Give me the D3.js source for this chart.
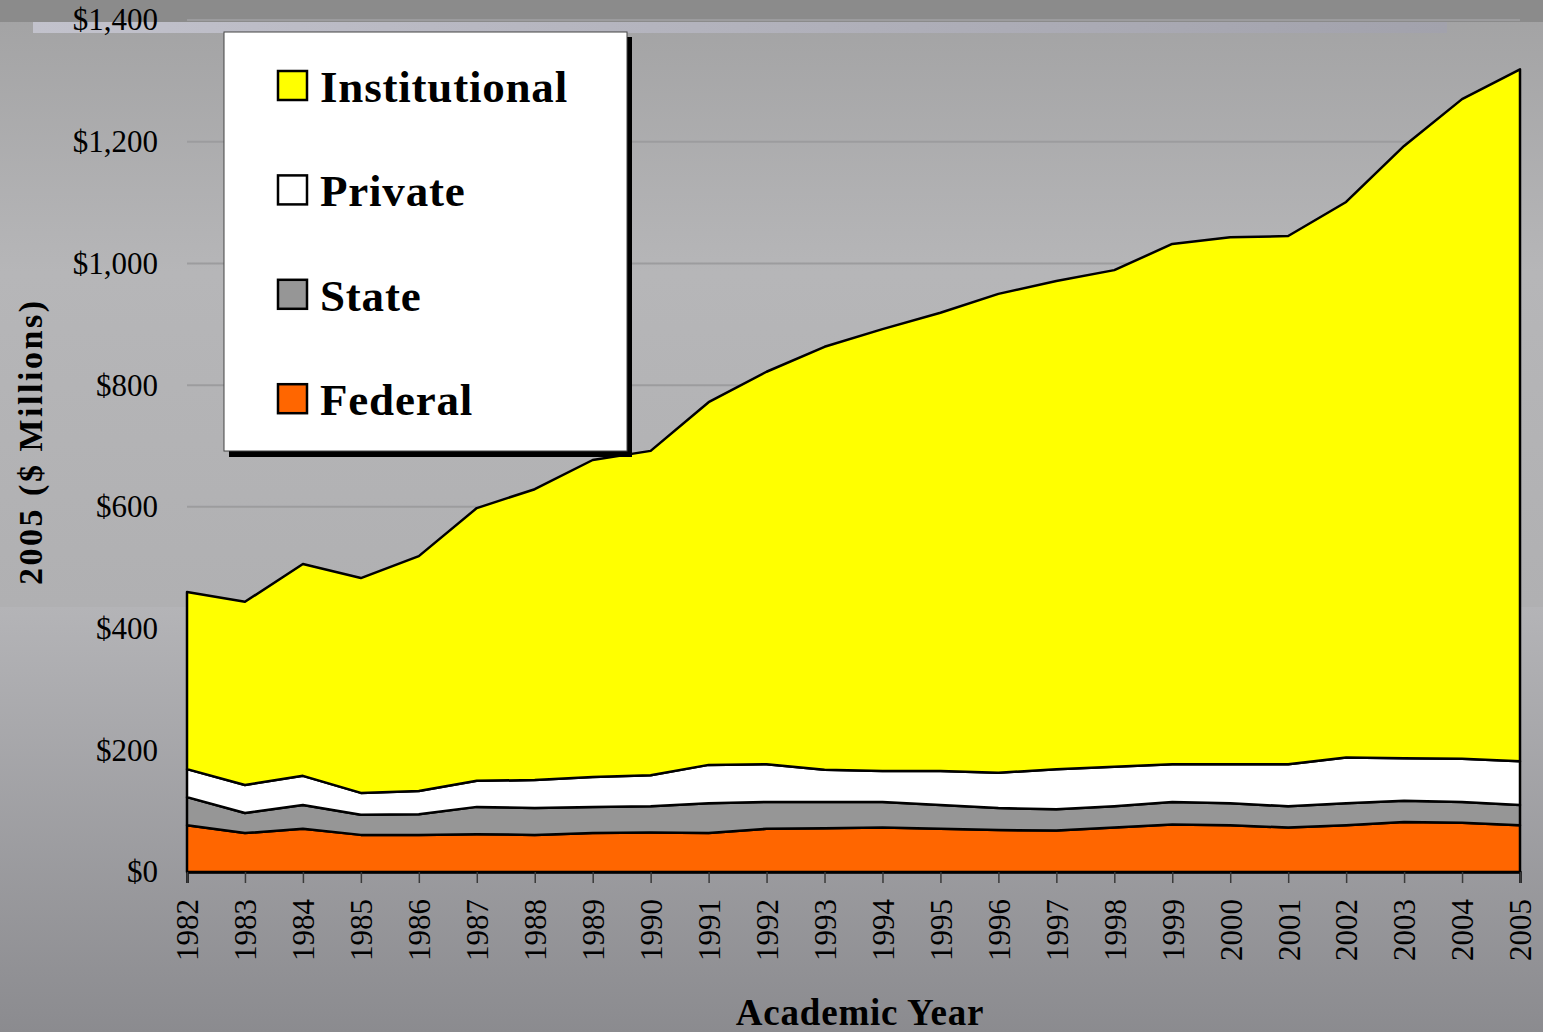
<!DOCTYPE html>
<html>
<head>
<meta charset="utf-8">
<script src="https://cdn.jsdelivr.net/npm/d3@7"></script>
<style>
html,body{margin:0;padding:0;background:#9a9a9c;}
svg{display:block;}
</style>
</head>
<body>
<svg id="chart" width="1543" height="1032"></svg>
<script>
// ---- data (2005 $ Millions) ----
const years = [1982,1983,1984,1985,1986,1987,1988,1989,1990,1991,1992,1993,1994,1995,1996,1997,1998,1999,2000,2001,2002,2003,2004,2005];
const federal = [77,64,71,61,61,62,61,64,65,64,71,72,73,71,69,68,73,78,77,73,77,82,81,77];
const state = [46,33,39,33,34,45,44,43,43,49,44,43,42,39,36,35,35,37,36,35,36,35,34,33];
const privateAid = [46,46,48,36,38,43,46,49,51,63,62,53,51,56,58,66,65,62,64,69,75,70,71,72];
const institutional = [291,301,348,353,386,448,478,521,533,596,645,695,726,753,787,802,816,855,866,868,913,1006,1084,1137];
const seriesKeys = ["Federal","State","Private","Institutional"];
const seriesColors = {Federal:"#ff6600", State:"#969696", Private:"#ffffff", Institutional:"#ffff00"};
const legendOrder = ["Institutional","Private","State","Federal"];
const yTicks = [0,200,400,600,800,1000,1200,1400];

(function(){
const svg = d3.select("#chart");
const W = 1543, H = 1032;
const pLeft = 187, pRight = 1520, pTop = 20, pBottom = 872;

// ---- background ----
const defs = svg.append("defs");
const g1 = defs.append("linearGradient").attr("id","bgTop").attr("x1",0).attr("y1",0).attr("x2",0).attr("y2",1);
g1.append("stop").attr("offset","0%").attr("stop-color","#a2a2a3");
g1.append("stop").attr("offset","45%").attr("stop-color","#b6b6b8");
g1.append("stop").attr("offset","100%").attr("stop-color","#b0b0b2");
const g2 = defs.append("linearGradient").attr("id","bgBot").attr("x1",0).attr("y1",0).attr("x2",0).attr("y2",1);
g2.append("stop").attr("offset","0%").attr("stop-color","#b4b4b7");
g2.append("stop").attr("offset","100%").attr("stop-color","#8b8b8f");
const g3 = defs.append("linearGradient").attr("id","stripe").attr("x1",0).attr("y1",0).attr("x2",1).attr("y2",0);
g3.append("stop").attr("offset","0%").attr("stop-color","#c2c2cc");
g3.append("stop").attr("offset","100%").attr("stop-color","#a2a2ac");

svg.append("rect").attr("x",0).attr("y",0).attr("width",W).attr("height",607).attr("fill","url(#bgTop)");
svg.append("rect").attr("x",0).attr("y",607).attr("width",W).attr("height",H-607).attr("fill","url(#bgBot)");
svg.append("rect").attr("x",0).attr("y",0).attr("width",W).attr("height",22).attr("fill","#8b8b8b");
svg.append("rect").attr("x",33).attr("y",22).attr("width",1414).attr("height",11).attr("fill","url(#stripe)");

// ---- scales ----
const x = d3.scalePoint().domain(years).range([pLeft, pRight]);
const y = d3.scaleLinear().domain([0,1400]).range([pBottom, pTop]);

// gridlines
svg.append("g").selectAll("line").data(yTicks.filter(d=>d>0)).join("line")
  .attr("x1",pLeft).attr("x2",pRight)
  .attr("y1",d=>y(d)).attr("y2",d=>y(d))
  .attr("stroke","#9c9c9e").attr("stroke-width",2);

// ---- stacked areas ----
const table = years.map((yr,i)=>({year:yr, Federal:federal[i], State:state[i], Private:privateAid[i], Institutional:institutional[i]}));
const stack = d3.stack().keys(seriesKeys)(table);
const area = d3.area()
  .x(d=>x(d.data.year))
  .y0(d=>y(d[0]))
  .y1(d=>y(d[1]));
svg.append("g").selectAll("path").data(stack).join("path")
  .attr("d", area)
  .attr("fill", d=>seriesColors[d.key])
  .attr("stroke","#000")
  .attr("stroke-width",2.5)
  .attr("stroke-linejoin","round");

// ---- axes ----
const yAxis = svg.append("g").attr("transform",`translate(${pLeft},0)`)
  .call(d3.axisLeft(y).tickValues(yTicks).tickSize(0).tickPadding(29)
    .tickFormat(d=>"$"+d3.format(",")(d)));
yAxis.select(".domain").remove();
yAxis.selectAll("text").attr("font-family","'Liberation Serif', serif").attr("font-size",31).attr("fill","#000");

const xAxis = svg.append("g").attr("transform",`translate(0,${pBottom})`)
  .call(d3.axisBottom(x).tickSize(11).tickPadding(0));
xAxis.select(".domain").attr("stroke","#000").attr("stroke-width",2.5);
xAxis.selectAll(".tick line").attr("stroke","#3a3a3a").attr("stroke-width",1.5);
xAxis.selectAll("text")
  .attr("font-family","'Liberation Serif', serif").attr("font-size",31).attr("fill","#000")
  .attr("text-anchor","end")
  .attr("y",0)
  .attr("dy","0.35em")
  .attr("transform","translate(0,27) rotate(-90)");

// axis titles
svg.append("text").attr("x",860).attr("y",1025).attr("text-anchor","middle")
  .attr("font-family","'Liberation Serif', serif").attr("font-weight","bold").attr("font-size",37)
  .attr("letter-spacing","0.8").text("Academic Year");
svg.append("text").attr("transform","translate(42,443) rotate(-90)").attr("text-anchor","middle")
  .attr("font-family","'Liberation Serif', serif").attr("font-weight","bold").attr("font-size",34)
  .attr("textLength",284).attr("lengthAdjust","spacing")
  .text("2005 ($ Millions)");

// ---- legend ----
const lg = svg.append("g");
lg.append("rect").attr("x",229).attr("y",37).attr("width",403).attr("height",420).attr("fill","#000");
lg.append("rect").attr("x",224).attr("y",32).attr("width",403).attr("height",419)
  .attr("fill","#fff").attr("stroke","#444").attr("stroke-width",1);
const items = lg.selectAll("g.item").data(legendOrder).join("g")
  .attr("transform",(d,i)=>`translate(0,${71 + i*104.4})`);
items.append("rect").attr("x",278).attr("y",0).attr("width",29).attr("height",29)
  .attr("fill",d=>seriesColors[d]).attr("stroke","#000").attr("stroke-width",2.5);
items.append("text").attr("x",320).attr("y",31)
  .attr("font-family","'Liberation Serif', serif").attr("font-weight","bold").attr("font-size",45)
  .attr("letter-spacing","0.8")
  .text(d=>d);
})();
</script>
</body>
</html>
